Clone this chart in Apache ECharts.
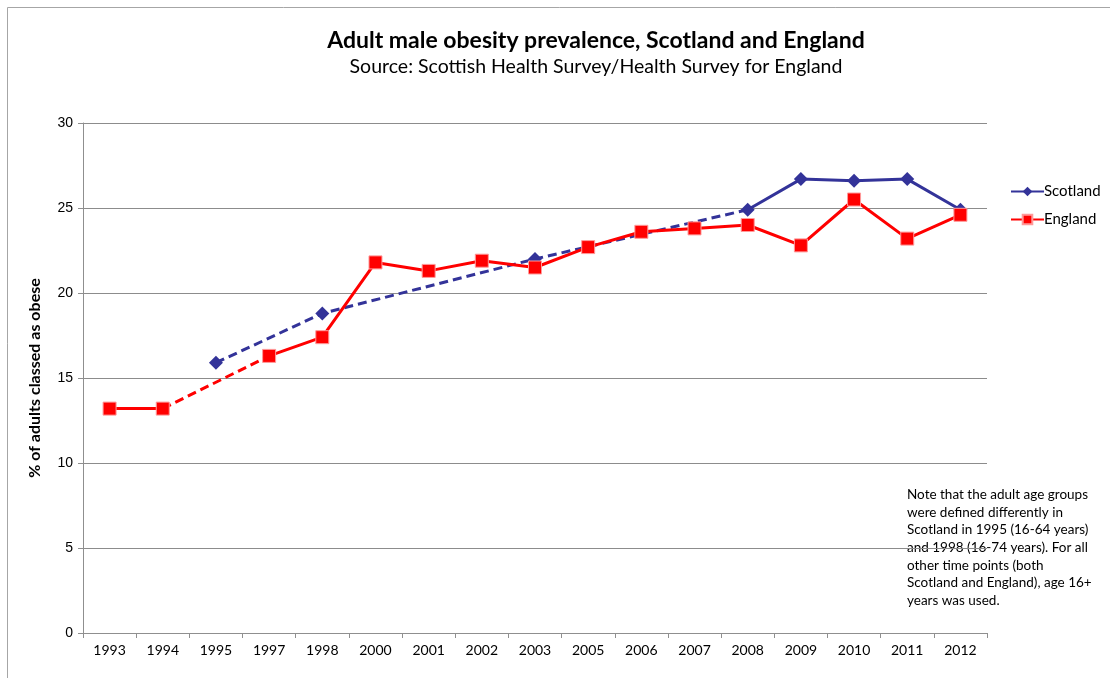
<!DOCTYPE html>
<html>
<head>
<meta charset="utf-8">
<script src="https://cdn.jsdelivr.net/npm/echarts@6/dist/echarts.min.js"></script>
<style>
  html, body { margin: 0; padding: 0; background: #fff; }
  #chart { width: 1110px; height: 678px; }
</style>
</head>
<body>
<div id="chart"></div>
<script>
// survey years (uneven spacing, treated as categories)
const years = ['1993', '1994', '1995', '1997', '1998', '2000', '2001', '2002', '2003',
  '2005', '2006', '2007', '2008', '2009', '2010', '2011', '2012'];

// % of adult men classed as obese (null = no survey that year)
const scotland = [null, null, 15.9, null, 18.8, null, null, null, 22.0,
  null, null, null, 24.9, 26.7, 26.6, 26.7, 24.9];
const england = [13.2, 13.2, null, 16.3, 17.4, 21.8, 21.3, 21.9, 21.5,
  22.7, 23.6, 23.8, 24.0, 22.8, 25.5, 23.2, 24.6];

// dashed links bridging years without a survey
const scotlandGap = [null, null, 15.9, null, 18.8, null, null, null, 22.0,
  null, null, null, 24.9, null, null, null, null];
const englandGap = [null, 13.2, null, 16.3, null, null, null, null, null,
  null, null, null, null, null, null, null, null];

const yTicks = [0, 5, 10, 15, 20, 25, 30];

const note = 'Note that the adult age groups\nwere defined differently in\nScotland in 1995 (16-64 years)\n' +
  'and 1998 (16-74 years). For all\nother time points (both\nScotland and England), age 16+\nyears was used.';

const BLUE = '#333399';
const RED = '#ff0000';
const FONT = 'Lato, "Open Sans", sans-serif';

const chart = echarts.init(document.getElementById('chart'));

chart.setOption({
  backgroundColor: '#fff',
  animation: false,
  title: [
    {
      text: 'Adult male obesity prevalence, Scotland and England',
      left: 591, top: 24, textAlign: 'center',
      textStyle: { fontFamily: FONT, fontSize: 23, fontWeight: 'bold', color: '#000' }
    },
    {
      text: 'Source: Scottish Health Survey/Health Survey for England',
      left: 591, top: 52, textAlign: 'center',
      textStyle: { fontFamily: FONT, fontSize: 19.5, fontWeight: 'normal', color: '#000' }
    }
  ],
  legend: {
    data: ['Scotland', 'England'],
    orient: 'vertical',
    left: 1005, top: 179,
    itemWidth: 33, itemHeight: 12, itemGap: 13,
    textStyle: { fontFamily: FONT, fontSize: 15, color: '#000', padding: [0, 0, 0, -5] }
  },
  grid: { left: 83, right: 123, top: 123, bottom: 45 },
  xAxis: {
    type: 'category',
    data: years,
    boundaryGap: true,
    axisLine: { lineStyle: { color: '#8f8f8f', width: 1 } },
    axisTick: { show: true, length: 5, lineStyle: { color: '#8f8f8f' } },
    axisLabel: { fontFamily: FONT, fontSize: 14, color: '#000', margin: 10, interval: 0 }
  },
  yAxis: {
    type: 'value',
    min: yTicks[0], max: yTicks[yTicks.length - 1], interval: 5,
    name: '% of adults classed as obese',
    nameLocation: 'middle',
    nameGap: 40,
    nameTextStyle: { fontFamily: FONT, fontSize: 16, fontWeight: 'bold', color: '#000' },
    axisLine: { show: true, lineStyle: { color: '#8f8f8f', width: 1 } },
    axisTick: { show: true, length: 5, lineStyle: { color: '#8f8f8f' } },
    axisLabel: { fontFamily: 'Liberation Sans, Arial, sans-serif', fontSize: 14, color: '#000', margin: 10 },
    splitLine: { lineStyle: { color: '#8c8c8c', width: 1 } }
  },
  graphic: [
    {
      type: 'rect', silent: true,
      shape: { x: 7.5, y: 7.5, width: 1200, height: 800 },
      style: { fill: null, stroke: '#a6a6a6', lineWidth: 1 }
    },
    {
      type: 'text', left: 907, top: 486, silent: true,
      style: { text: note, fontFamily: FONT, fontSize: 13.5, lineHeight: 17.6, fill: '#000' }
    }
  ],
  series: [
    {
      name: 'Scotland gap', type: 'line', data: scotlandGap, connectNulls: true,
      symbol: 'none', z: 2,
      lineStyle: { color: BLUE, width: 3, type: [9, 5] }
    },
    {
      name: 'England gap', type: 'line', data: englandGap, connectNulls: true,
      symbol: 'none', z: 2,
      lineStyle: { color: RED, width: 3, type: [9, 5] }
    },
    {
      name: 'Scotland', type: 'line', data: scotland, connectNulls: false,
      symbol: 'diamond', symbolSize: 14, showAllSymbol: true, z: 3,
      lineStyle: { color: BLUE, width: 3 },
      itemStyle: { color: BLUE }
    },
    {
      name: 'England', type: 'line', data: england, connectNulls: false,
      symbol: 'rect', symbolSize: 13, showAllSymbol: true, z: 4,
      lineStyle: { color: RED, width: 3 },
      itemStyle: { color: RED, borderColor: '#ff9a9a', borderWidth: 1 }
    }
  ]
});
</script>
</body>
</html>
